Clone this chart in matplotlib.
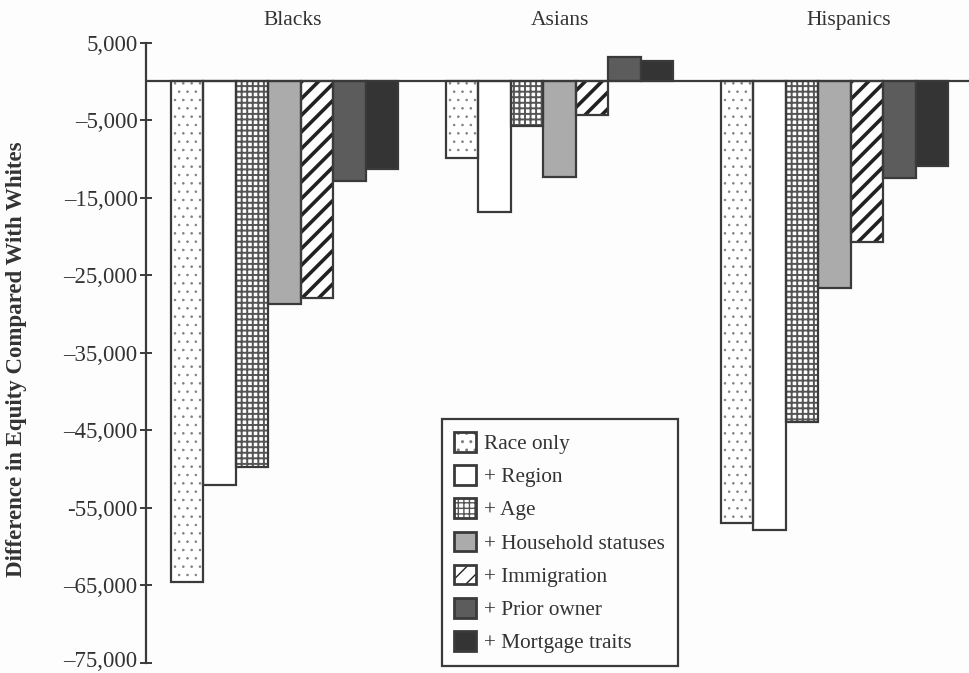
import matplotlib
matplotlib.use("Agg")
import numpy as np
import matplotlib.pyplot as plt
from matplotlib.patches import Patch
from matplotlib.legend_handler import HandlerTuple
from matplotlib.transforms import ScaledTranslation

# ---- data
groups = ["Blacks", "Asians", "Hispanics"]
series = ["Race only", "+ Region", "+ Age", "+ Household statuses",
          "+ Immigration", "+ Prior owner", "+ Mortgage traits"]
race_only = [-64500, -9900, -57000]
region = [-52100, -16800, -57800]
age = [-49700, -5800, -43900]
household = [-28700, -12300, -26600]
immigration = [-27900, -4300, -20700]
prior_owner = [-12800, 3200, -12400]
mortgage = [-11300, 2600, -10900]
values = [race_only, region, age, household, immigration, prior_owner, mortgage]

y_ticks = [5000, -5000, -15000, -25000, -35000, -45000, -55000, -65000, -75000]
y_ticklabels = ["5,000", "\u20135,000", "\u201315,000", "\u201325,000", "\u201335,000",
                "\u201345,000", "-55,000", "\u201365,000", "\u201375,000"]

# ---- styles
ink = "#3a3a3a"
text_c = "#333333"
styles = [
    dict(face="white", hatch="..", hcolor="#808080", hlw=0.6),
    dict(face="white", hatch=None, hcolor=None, hlw=1.0),
    dict(face="white", hatch="+++", hcolor="#555555", hlw=1.4),
    dict(face="#ababab", hatch=None, hcolor=None, hlw=1.0),
    dict(face="white", hatch="//", hcolor="#222222", hlw=2.6),
    dict(face="#5c5c5c", hatch=None, hcolor=None, hlw=1.0),
    dict(face="#343434", hatch=None, hcolor=None, hlw=1.0),
]

plt.rcParams["font.family"] = ["Liberation Serif", "DejaVu Serif"]

fig = plt.figure(figsize=(9.7, 6.73), dpi=100, facecolor="#fdfdfd")
ax = fig.add_axes([0.1505, 0.0149, 0.8495, 0.9217])
ax.set_facecolor("#fdfdfd")

x = np.arange(len(groups))
w = 0.1182
handles = []
for j, (vals, st) in enumerate(zip(values, styles)):
    pos = x + (j - 3) * w
    with plt.rc_context({"hatch.linewidth": st["hlw"]}):
        if st["hatch"]:
            ax.bar(pos, vals, w, color=st["face"], hatch=st["hatch"],
                   edgecolor=st["hcolor"], linewidth=0, zorder=2)
            fill = Patch(facecolor=st["face"], hatch=st["hatch"],
                         edgecolor=st["hcolor"], linewidth=0)
        else:
            ax.bar(pos, vals, w, color=st["face"], linewidth=0, zorder=2)
            fill = Patch(facecolor=st["face"], linewidth=0)
    ax.bar(pos, vals, w, fill=False, edgecolor=ink, linewidth=1.6, zorder=3)
    outline = Patch(fill=False, edgecolor=ink, linewidth=2.0)
    handles.append((fill, outline))

ax.axhline(0, color=ink, linewidth=1.6, zorder=4)

ax.set_xlim(-0.504, 2.492)
ax.set_ylim(-75000, 5000)
ax.set_xticks([])
ax.set_yticks(y_ticks)
ax.set_yticklabels(y_ticklabels, fontsize=16.5, color=text_c)
ax.tick_params(axis="y", direction="inout", length=8, width=1.4, color=ink, pad=2)
# lift the lowest label a few pixels so it stays inside the picture
last = ax.yaxis.get_major_ticks()[-1].label1
last.set_transform(last.get_transform() + ScaledTranslation(0, 3 / 72, fig.dpi_scale_trans))

for s in ["top", "right", "bottom"]:
    ax.spines[s].set_visible(False)
ax.spines["left"].set_color(ink)
ax.spines["left"].set_linewidth(1.6)

label_x = [0.03, 1.0, 2.05]
for lx, g in zip(label_x, groups):
    ax.text(lx, 1.035, g, transform=ax.get_xaxis_transform(), ha="center",
            va="center", fontsize=15.5, color=text_c)

ax.set_ylabel("Difference in Equity Compared With Whites", fontsize=16.5,
              fontweight="bold", color=text_c)
ax.yaxis.set_label_coords(-0.145, 0.49)

leg = ax.legend(handles, series, handler_map={tuple: HandlerTuple(ndivide=1, pad=0)},
                loc="upper left", bbox_to_anchor=(441.7 / 970, 1 - 419.3 / 673),
                bbox_transform=fig.transFigure, borderaxespad=0, fontsize=15.3,
                handlelength=1.0, handleheight=1.05, handletextpad=0.4,
                labelspacing=0.52, borderpad=0.6, fancybox=False, framealpha=1,
                edgecolor=ink, facecolor="#fdfdfd")
leg.get_frame().set_linewidth(1.6)
for t in leg.get_texts():
    t.set_color(text_c)

fig.savefig("out.png", dpi=100, facecolor=fig.get_facecolor())
